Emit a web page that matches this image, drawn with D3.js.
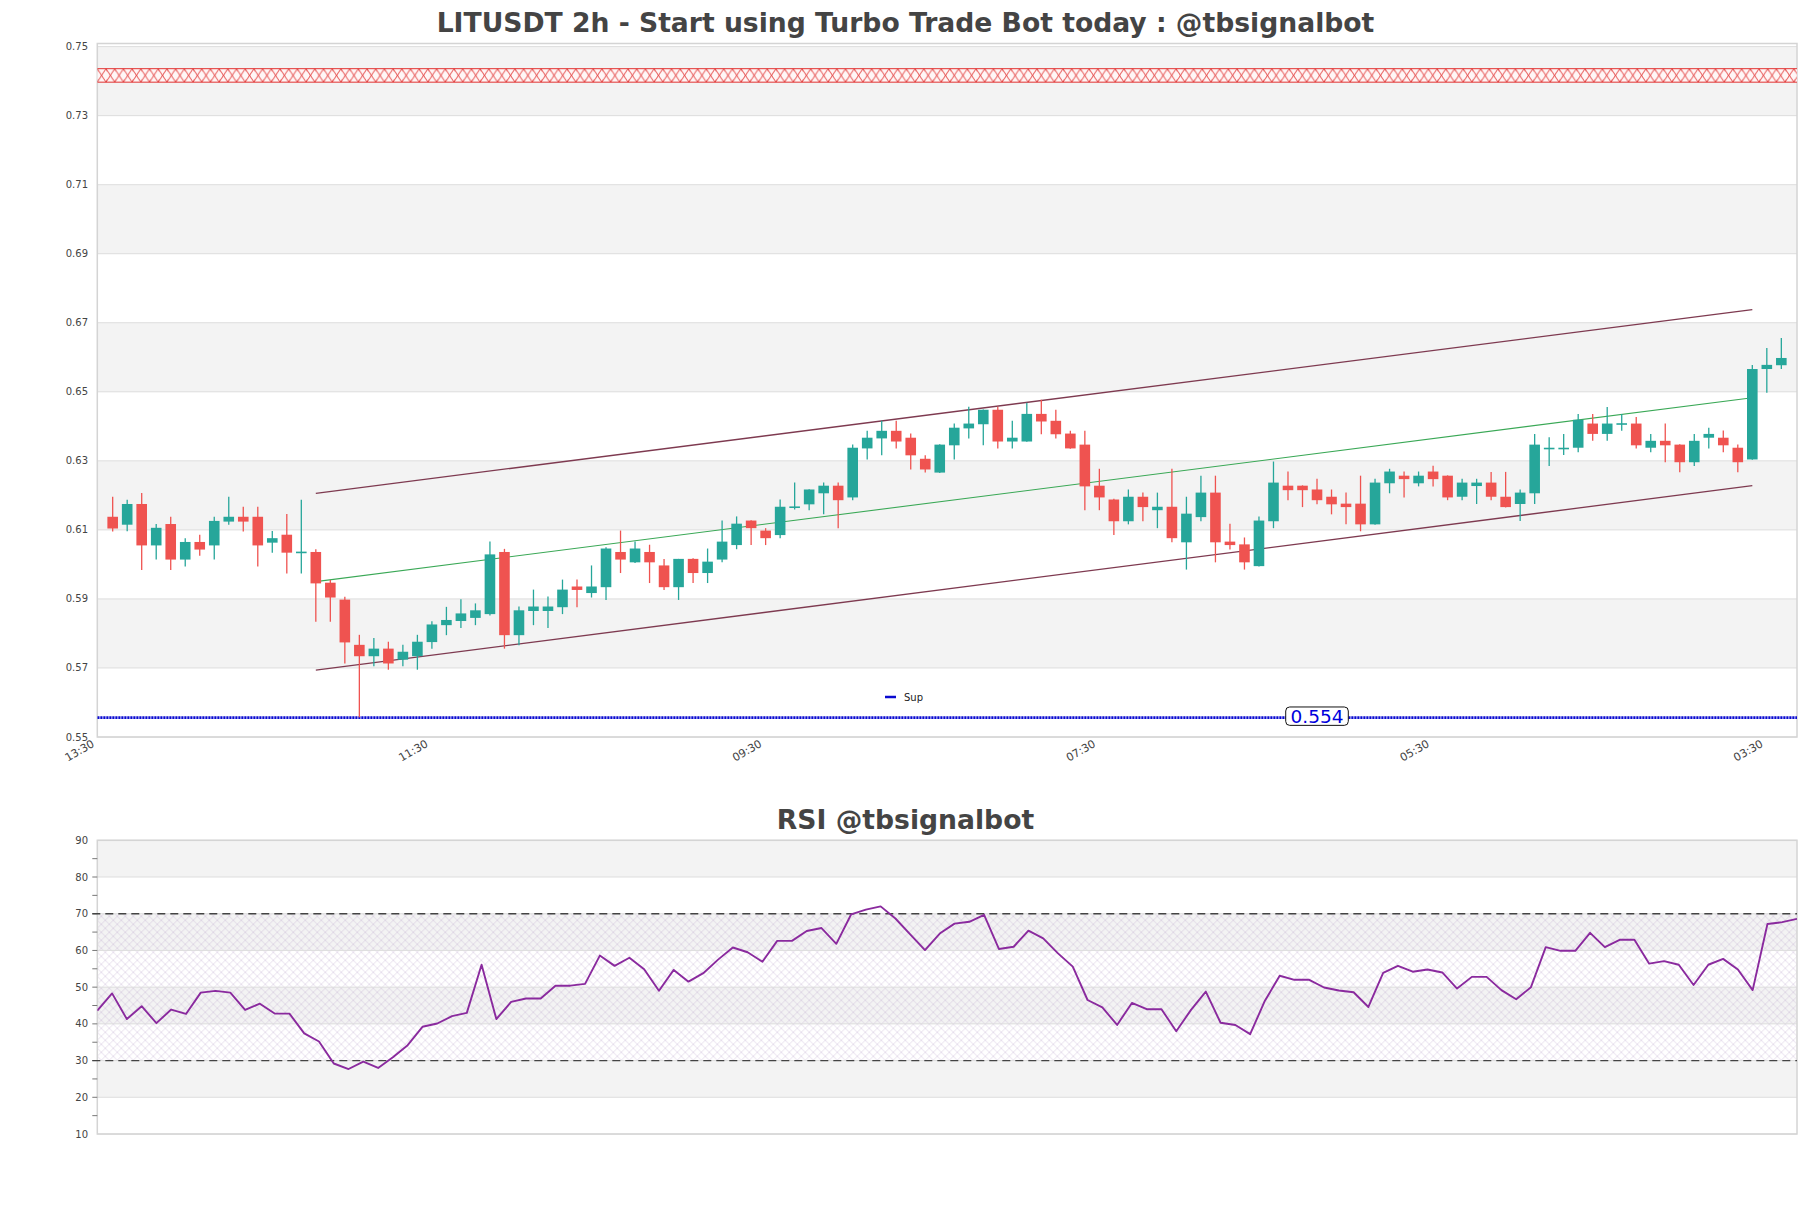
<!DOCTYPE html>
<html><head><meta charset="utf-8">
<script src="https://cdn.jsdelivr.net/npm/d3@7"></script>
<style>body{margin:0;background:#fff}</style>
</head><body>
<svg id="c" width="1811" height="1208" xmlns="http://www.w3.org/2000/svg"></svg>
<script>
// ---------- DATA ----------
const xTickLabels = ["13:30","11:30","09:30","07:30","05:30","03:30"];
const xTickIdx = [-1,22,45,68,91,114];
const priceTicks = [0.55,0.57,0.59,0.61,0.63,0.65,0.67,0.69,0.71,0.73,0.75];
const rsiTicks = [10,20,30,40,50,60,70,80,90];

const opens = [0.6138,0.6115,0.6175,0.6055,0.6117,0.6014,0.6065,0.6055,0.6124,0.6138,
0.6138,0.6063,0.6086,0.6036,0.6036,0.5947,0.5898,0.5767,0.5734,0.5756,
0.5724,0.5734,0.5775,0.5824,0.5836,0.5845,0.5856,0.6036,0.5795,0.5865,
0.5865,0.5876,0.5936,0.5917,0.5934,0.6036,0.6006,0.6036,0.5997,0.5934,
0.6016,0.5975,0.6014,0.6056,0.6127,0.6098,0.6085,0.6166,0.6174,0.6206,
0.6228,0.6194,0.6336,0.6365,0.6387,0.6367,0.6306,0.6266,0.6345,0.6394,
0.6406,0.6448,0.6356,0.6356,0.6436,0.6416,0.6379,0.6347,0.6228,0.6188,
0.6125,0.6196,0.6157,0.6167,0.6064,0.6137,0.6208,0.6066,0.6058,0.5995,
0.6125,0.6228,0.6228,0.6217,0.6196,0.6176,0.6176,0.6116,0.6235,0.6257,
0.6235,0.6269,0.6257,0.6196,0.6227,0.6237,0.6196,0.6175,0.6206,0.6336,
0.6336,0.6338,0.6408,0.6378,0.6407,0.6408,0.6338,0.6358,0.6347,0.6296,
0.6367,0.6367,0.6338,0.6304,0.6566,0.6577];
const highs = [0.6196,0.6187,0.6207,0.6117,0.6138,0.6076,0.6086,0.6138,0.6196,0.6167,
0.6167,0.6097,0.6146,0.6187,0.6044,0.5955,0.5906,0.5796,0.5787,0.5776,
0.5767,0.5796,0.5835,0.5877,0.5899,0.5887,0.6066,0.6045,0.5878,0.5927,
0.5907,0.5956,0.5956,0.5997,0.6050,0.6098,0.6066,0.6057,0.6016,0.6016,
0.6018,0.6046,0.6127,0.6139,0.6128,0.6105,0.6188,0.6237,0.6218,0.6237,
0.6237,0.6347,0.6387,0.6416,0.6416,0.6379,0.6316,0.6348,0.6408,0.6457,
0.6449,0.6457,0.6416,0.6468,0.6477,0.6448,0.6387,0.6387,0.6277,0.6190,
0.6217,0.6208,0.6208,0.6277,0.6196,0.6257,0.6257,0.6118,0.6078,0.6139,
0.6298,0.6269,0.6229,0.6248,0.6217,0.6208,0.6257,0.6248,0.6277,0.6269,
0.6269,0.6286,0.6258,0.6248,0.6248,0.6268,0.6268,0.6217,0.6378,0.6368,
0.6378,0.6436,0.6436,0.6456,0.6436,0.6427,0.6378,0.6408,0.6348,0.6378,
0.6396,0.6388,0.6347,0.6578,0.6627,0.6656];
const lows = [0.6095,0.6096,0.5984,0.6014,0.5984,0.5994,0.6025,0.6014,0.6115,0.6095,
0.5994,0.6034,0.5974,0.5974,0.5834,0.5834,0.5713,0.5557,0.5705,0.5695,
0.5705,0.5695,0.5756,0.5795,0.5816,0.5824,0.5852,0.5756,0.5766,0.5824,
0.5816,0.5856,0.5876,0.5904,0.5897,0.5975,0.6004,0.5946,0.5926,0.5897,
0.5946,0.5946,0.6006,0.6044,0.6056,0.6056,0.6076,0.6159,0.6157,0.6145,
0.6105,0.6186,0.6304,0.6316,0.6336,0.6275,0.6266,0.6265,0.6304,0.6365,
0.6345,0.6336,0.6336,0.6355,0.6377,0.6365,0.6335,0.6157,0.6157,0.6085,
0.6116,0.6125,0.6105,0.6064,0.5985,0.6125,0.6006,0.6043,0.5985,0.5994,
0.6105,0.6186,0.6166,0.6174,0.6145,0.6116,0.6096,0.6115,0.6206,0.6194,
0.6226,0.6226,0.6186,0.6186,0.6175,0.6186,0.6165,0.6126,0.6175,0.6285,
0.6317,0.6325,0.6358,0.6358,0.6387,0.6336,0.6325,0.6296,0.6267,0.6285,
0.6336,0.6325,0.6267,0.6303,0.6497,0.6566];
const closes = [0.6104,0.6175,0.6055,0.6106,0.6014,0.6065,0.6043,0.6126,0.6138,0.6124,
0.6055,0.6076,0.6034,0.6037,0.5945,0.5904,0.5774,0.5734,0.5756,0.5713,
0.5747,0.5776,0.5826,0.5839,0.5858,0.5867,0.6029,0.5795,0.5867,0.5878,
0.5878,0.5927,0.5926,0.5936,0.6046,0.6014,0.6046,0.6006,0.5934,0.6016,
0.5975,0.6008,0.6066,0.6118,0.6105,0.6076,0.6167,0.6168,0.6217,0.6228,
0.6186,0.6338,0.6367,0.6387,0.6356,0.6316,0.6275,0.6347,0.6396,0.6408,
0.6448,0.6356,0.6367,0.6436,0.6414,0.6377,0.6336,0.6226,0.6194,0.6125,
0.6196,0.6166,0.6167,0.6076,0.6147,0.6208,0.6064,0.6056,0.6006,0.6127,
0.6237,0.6215,0.6215,0.6186,0.6174,0.6166,0.6116,0.6237,0.6269,0.6247,
0.6257,0.6247,0.6194,0.6237,0.6237,0.6196,0.6166,0.6208,0.6347,0.6338,
0.6338,0.6419,0.6378,0.6408,0.6409,0.6345,0.6358,0.6345,0.6296,0.6358,
0.6378,0.6345,0.6296,0.6566,0.6578,0.6598];

const rsiValues = [43.6,48.3,41.3,44.8,40.2,43.9,42.7,48.5,49.0,48.5,
43.8,45.5,42.8,42.8,37.4,35.2,29.2,27.7,29.7,28.0,
30.9,34.2,39.2,40.1,42.1,43.0,56.1,41.3,46.0,46.9,
46.9,50.4,50.4,50.9,58.6,55.8,58.0,54.9,49.0,54.7,
51.5,53.8,57.5,60.8,59.5,56.9,62.6,62.6,65.3,66.1,
61.8,69.8,71.1,72.0,68.7,64.4,60.1,64.6,67.3,67.8,
69.7,60.4,61.0,65.4,63.3,59.2,55.6,46.5,44.5,39.7,
45.7,44.0,44.0,38.0,43.8,48.8,40.3,39.7,37.2,46.3,
53.1,52.0,52.0,49.9,49.1,48.6,44.6,53.9,55.8,54.2,
54.8,54.0,49.6,52.8,52.8,49.2,46.7,50.0,60.9,59.9,
59.9,64.8,60.9,62.9,62.9,56.4,57.1,56.1,50.6,56.1,
57.7,54.8,49.2,67.2,67.7,68.6];

const resistZone = [0.7397, 0.7436];
const supLevel = 0.5556;
const supLabelText = "0.554";
const supLabelIdx = 83;
const channelIdx = [14, 113];
const upperLine = [0.6206, 0.6738];
const midLine = [0.5950, 0.6483];
const lowerLine = [0.5694, 0.6228];
const rsiLevels = [30, 70];
const titleMain = "LITUSDT 2h - Start using Turbo Trade Bot today : @tbsignalbot";
const titleRsi = "RSI @tbsignalbot";

// ---------- LAYOUT ----------
const FONT = "'DejaVu Sans', sans-serif";
const L = 97.3, R = 1797;
const pTop = 43.5, pBot = 737;
const rTop = 840.3, rBot = 1134;
const svg = d3.select("#c");
svg.append("rect").attr("width",1811).attr("height",1208).attr("fill","#fff");

const x = d3.scaleLinear().domain([-1.06, 116.08]).range([L, R]);
const y = d3.scaleLinear().domain([0.55, 0.7509]).range([pBot, pTop]);
const xr = d3.scaleLinear().domain([0, rsiValues.length - 1]).range([L, R]);
const yr = d3.scaleLinear().domain([10, 90]).range([rBot, rTop]);

const defs = svg.append("defs");
defs.append("clipPath").attr("id","pclip").append("rect")
  .attr("x",L).attr("y",pTop).attr("width",R-L).attr("height",pBot-pTop);
defs.append("clipPath").attr("id","rclip").append("rect")
  .attr("x",L).attr("y",rTop).attr("width",R-L).attr("height",rBot-rTop);

const zTop = y(resistZone[1]), zBot = y(resistZone[0]);
const pw = 8.7, ph = zBot - zTop;
const pat = defs.append("pattern").attr("id","rhatch").attr("patternUnits","userSpaceOnUse")
  .attr("x", L).attr("y", zTop).attr("width", pw).attr("height", ph);
pat.append("rect").attr("width",pw).attr("height",ph).attr("fill","#fff6f6");
pat.append("path").attr("d",`M0,0L${pw},${ph}M${pw},0L0,${ph}M0,0V2.5M0,${ph}V${ph-2.5}`)
  .attr("stroke","#e0302f").attr("stroke-width",0.9).attr("fill","none");

const rp = defs.append("pattern").attr("id","rsihatch").attr("patternUnits","userSpaceOnUse")
  .attr("x", L).attr("y", rTop).attr("width", 8).attr("height", 8);
rp.append("path").attr("d","M0,0L8,8M8,0L0,8")
  .attr("stroke","#b49ac6").attr("stroke-opacity",0.45).attr("stroke-width",0.7).attr("fill","none");

// ---------- PRICE PANEL ----------
const gP = svg.append("g");
for (let k = 0; k < priceTicks.length - 1; k++) {
  if (k % 2 === 1) {
    gP.append("rect").attr("x",L).attr("width",R-L)
      .attr("y", y(priceTicks[k+1])).attr("height", y(priceTicks[k]) - y(priceTicks[k+1]))
      .attr("fill","#f3f3f3");
  }
}
gP.selectAll("line.grid").data(priceTicks).join("line").attr("class","grid")
  .attr("x1",L).attr("x2",R).attr("y1",d=>y(d)).attr("y2",d=>y(d))
  .attr("stroke","#dddddd").attr("stroke-width",1);
gP.append("rect").attr("x",L).attr("y",pTop).attr("width",R-L).attr("height",pBot-pTop)
  .attr("fill","none").attr("stroke","#d4d4d4").attr("stroke-width",1.5);

gP.selectAll("text.yl").data(priceTicks).join("text").attr("class","yl")
  .attr("x", 88).attr("y", d=>y(d)).attr("dy","0.35em").attr("text-anchor","end")
  .attr("font-family",FONT).attr("font-size",10).attr("fill","#444")
  .text(d=>d.toFixed(2));

gP.selectAll("text.xl").data(xTickIdx).join("text").attr("class","xl")
  .attr("transform", d=>`translate(${x(d)-3},${pBot+9}) rotate(-30)`)
  .attr("text-anchor","end").attr("font-family",FONT).attr("font-size",11).attr("fill","#444")
  .text((d,i)=>xTickLabels[i]);

const gc = gP.append("g").attr("clip-path","url(#pclip)");
gc.append("rect").attr("x",L).attr("width",R-L).attr("y",zTop).attr("height",ph)
  .attr("fill","url(#rhatch)");
gc.append("line").attr("x1",L).attr("x2",R).attr("y1",zTop).attr("y2",zTop).attr("stroke","#e0302f").attr("stroke-width",1);
gc.append("line").attr("x1",L).attr("x2",R).attr("y1",zBot).attr("y2",zBot).attr("stroke","#e0302f").attr("stroke-width",1);

gc.append("line").attr("x1",L).attr("x2",R).attr("y1",y(supLevel)).attr("y2",y(supLevel))
  .attr("stroke","#0a0ad0").attr("stroke-width",2.6).attr("stroke-dasharray","2.2,0.8");

const chan = [[upperLine,"#7e3a50",1.3],[lowerLine,"#7e3a50",1.3],[midLine,"#3aa856",1.1]];
chan.forEach(([vals,col,w])=>{
  gc.append("line").attr("x1",x(channelIdx[0])).attr("x2",x(channelIdx[1]))
    .attr("y1",y(vals[0])).attr("y2",y(vals[1]))
    .attr("stroke",col).attr("stroke-width",w);
});

const candles = opens.map((o,i)=>({i,o,h:highs[i],l:lows[i],c:closes[i]}));
const bw = 10.6;
const UP = "#26a69a", DN = "#ef5350";
const cg = gc.selectAll("g.cd").data(candles).join("g").attr("class","cd");
cg.append("line").attr("x1",d=>x(d.i)).attr("x2",d=>x(d.i))
  .attr("y1",d=>y(d.h)).attr("y2",d=>y(d.l))
  .attr("stroke",d=>d.c>=d.o?UP:DN).attr("stroke-width",1.3);
cg.append("rect").attr("x",d=>x(d.i)-bw/2).attr("width",bw)
  .attr("y",d=>y(Math.max(d.o,d.c)))
  .attr("height",d=>Math.max(1.6, Math.abs(y(d.o)-y(d.c))))
  .attr("fill",d=>d.c>=d.o?UP:DN);

const lx = x(supLabelIdx), ly = y(supLevel) - 1.5;
const lg = gP.append("g");
lg.append("rect").attr("x",lx-31.3).attr("y",ly-9.2).attr("width",62.6).attr("height",18.4)
  .attr("rx",4).attr("fill","#fff").attr("stroke","#111").attr("stroke-width",1);
lg.append("text").attr("x",lx).attr("y",ly).attr("dy","0.36em").attr("text-anchor","middle")
  .attr("font-family",FONT).attr("font-size",18.5).attr("fill","#0000dd").text(supLabelText);

gP.append("line").attr("x1",885).attr("x2",896).attr("y1",697).attr("y2",697)
  .attr("stroke","#0a0ad0").attr("stroke-width",2.5);
gP.append("text").attr("x",904).attr("y",697).attr("dy","0.35em")
  .attr("font-family",FONT).attr("font-size",10).attr("fill","#222").text("Sup");

const t1 = svg.append("text").attr("x",905.5).attr("y",32.3).attr("text-anchor","middle")
  .attr("font-family",FONT).attr("font-weight","bold").attr("font-size",25).attr("fill","#444")
  .text(titleMain);
const fitSize = Math.min(30, 25 * 938 / t1.node().getComputedTextLength());
t1.attr("font-size", fitSize);

// ---------- RSI PANEL ----------
const gR = svg.append("g");
d3.range(10, 90, 10).forEach(v=>{
  if ((v/10) % 2 === 0) {
    gR.append("rect").attr("x",L).attr("width",R-L).attr("y",yr(v+10)).attr("height",yr(v)-yr(v+10)).attr("fill","#f3f3f3");
  }
});
gR.append("rect").attr("x",L).attr("width",R-L).attr("y",yr(rsiLevels[1])).attr("height",yr(rsiLevels[0])-yr(rsiLevels[1]))
  .attr("fill","url(#rsihatch)");
gR.selectAll("line.grid").data(rsiTicks).join("line").attr("class","grid")
  .attr("x1",L).attr("x2",R).attr("y1",d=>yr(d)).attr("y2",d=>yr(d))
  .attr("stroke","#dddddd").attr("stroke-width",1);
gR.append("rect").attr("x",L).attr("y",rTop).attr("width",R-L).attr("height",rBot-rTop)
  .attr("fill","none").attr("stroke","#d4d4d4").attr("stroke-width",1.5);
gR.selectAll("line.tk").data(d3.range(15, 90, 5)).join("line").attr("class","tk")
  .attr("x1",L-5).attr("x2",L).attr("y1",d=>yr(d)).attr("y2",d=>yr(d))
  .attr("stroke","#777").attr("stroke-width",1);
gR.selectAll("text.yl").data(rsiTicks).join("text").attr("class","yl")
  .attr("x", 88).attr("y", d=>yr(d)).attr("dy","0.35em").attr("text-anchor","end")
  .attr("font-family",FONT).attr("font-size",10).attr("fill","#444").text(d=>d);
gR.selectAll("line.lv").data(rsiLevels).join("line").attr("class","lv")
  .attr("x1",L-5).attr("x2",R).attr("y1",d=>yr(d)).attr("y2",d=>yr(d))
  .attr("stroke","#444").attr("stroke-width",1.3).attr("stroke-dasharray","8,5");
gR.append("path").datum(rsiValues).attr("clip-path","url(#rclip)")
  .attr("d", d3.line().x((d,i)=>xr(i)).y(d=>yr(d)))
  .attr("fill","none").attr("stroke","#8a2a9e").attr("stroke-width",1.9).attr("stroke-linejoin","round");

svg.append("text").attr("x",905.5).attr("y",829).attr("text-anchor","middle")
  .attr("font-family",FONT).attr("font-weight","bold").attr("font-size",fitSize).attr("fill","#444")
  .text(titleRsi);
</script>
</body></html>
